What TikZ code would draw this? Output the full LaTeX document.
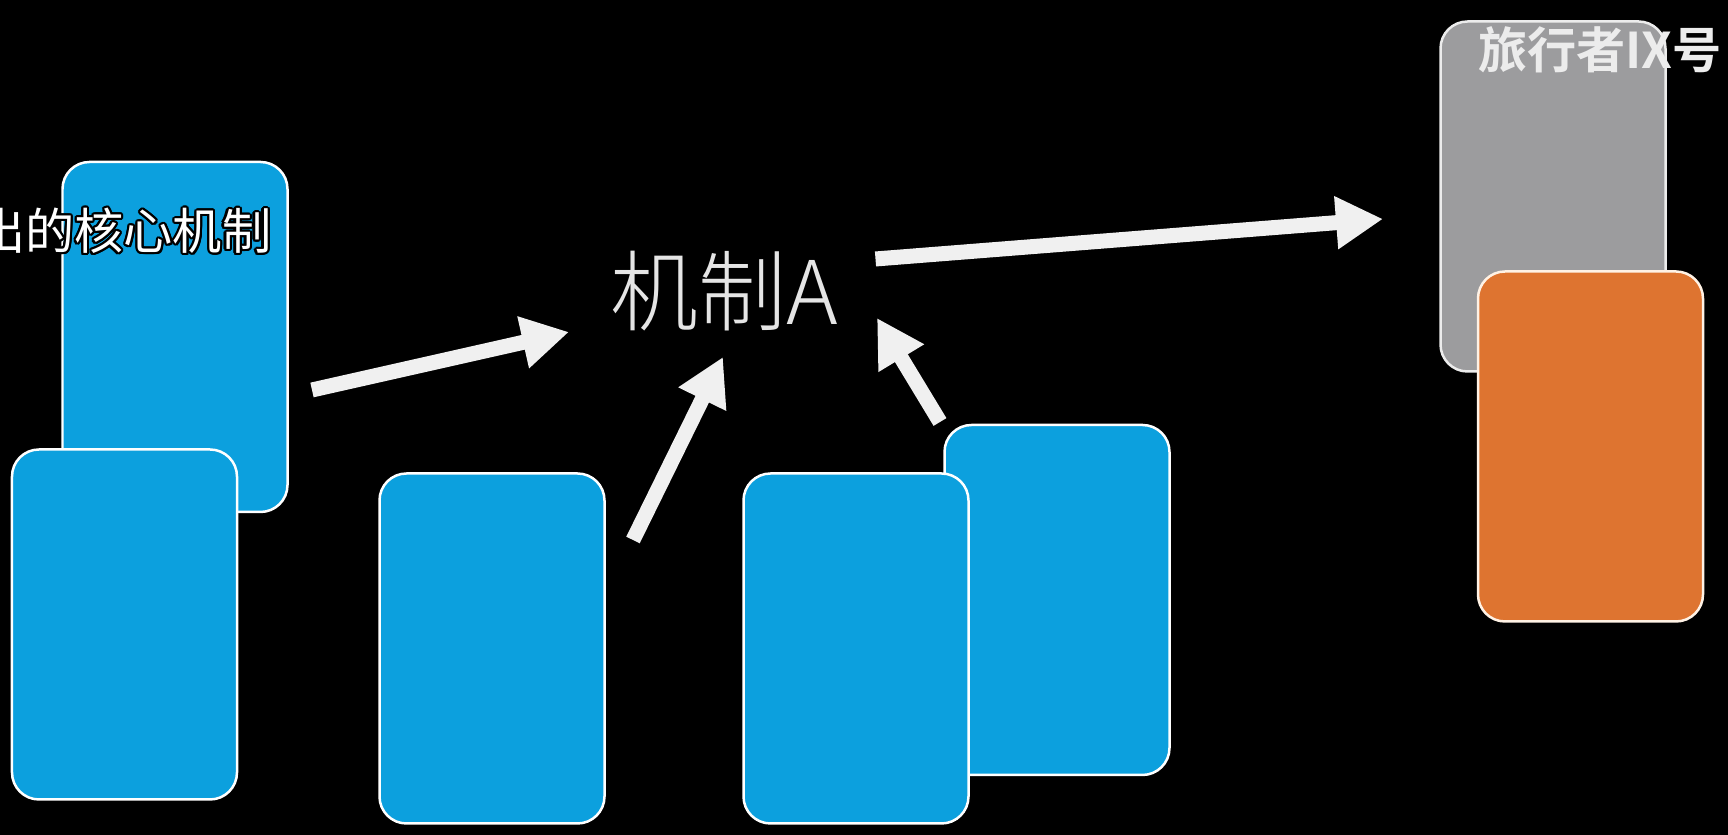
\documentclass[tikz,border=0pt]{standalone}
\usepackage{fontspec}
\usepackage{contour}
\usetikzlibrary{arrows.meta}
\newfontfamily\cjk{Noto Sans CJK SC}
\newfontfamily\cjklight{Noto Sans CJK SC Light}
\newfontfamily\cjkbold{Noto Sans CJK SC Bold}
\definecolor{cardblue}{RGB}{12,160,222}
\definecolor{cardgray}{RGB}{156,156,158}
\definecolor{cardorange}{RGB}{222,116,48}
\definecolor{arrowwhite}{RGB}{240,240,240}
\contourlength{0.6pt}
\begin{document}
\begin{tikzpicture}[
            card/.style={rectangle, rounded corners=0.27cm, draw=white, line width=0.025cm, minimum width=2.25cm, minimum height=3.5cm, inner sep=0pt},
            bluecard/.style={card, fill=cardblue},
            graycard/.style={card, fill=cardgray, draw=white!85!gray},
            orangecard/.style={card, fill=cardorange, draw=white!90!orange},
            bigarrow/.style={draw=arrowwhite, line width=0.15cm, -{Triangle[length=0.47cm, width=0.5cm]}}
        ]

        % Background
        \fill[black] (0,0) rectangle (17.28,8.35);
        \useasboundingbox (0,0) rectangle (17.28,8.35);
        \clip (0,0) rectangle (17.28,8.35);

        % Left cards
        \node[bluecard] (a1) at (1.75,4.98) {};
        \node[bluecard] (a2) at (1.245,2.105) {};

        % Middle cards
        \node[bluecard] (b1) at (4.92,1.865) {};
        \node[bluecard] (c2) at (10.57,2.35) {};
        \node[bluecard] (c1) at (8.56,1.865) {};

        % Right cards
        \node[graycard] (r1) at (15.53,6.385) {};
        \node[orangecard] (r2) at (15.905,3.885) {};

        % Labels
        \node[anchor=east, inner sep=0pt, text=white, font=\cjk\fontsize{14pt}{16pt}\selectfont] (sub) at (2.72,6.03) {\contour{black}{出的核心机制}};
        \node[inner sep=0pt, text=white!90!black, font=\cjklight\fontsize{25pt}{28pt}\selectfont] (mech) at (7.24,5.44) {机制A};
        \node[inner sep=0pt, text=white!85!gray, font=\cjkbold\fontsize{14pt}{16pt}\selectfont] (title) at (16.0,7.85) {旅行者IX号};

        % Arrow ends
        \coordinate (t1) at (3.12,4.45);
        \coordinate (h1) at (5.69,5.03);
        \coordinate (t2) at (6.33,2.95);
        \coordinate (h2) at (7.23,4.78);
        \coordinate (t3) at (9.40,4.13);
        \coordinate (h3) at (8.77,5.17);
        \coordinate (t4) at (8.755,5.76);
        \coordinate (h4) at (13.83,6.16);

        % Arrows
        \draw[bigarrow] (t1) -- (h1);
        \draw[bigarrow] (t2) -- (h2);
        \draw[bigarrow] (t3) -- (h3);
        \draw[bigarrow] (t4) -- (h4);

    \end{tikzpicture}
\end{document}
